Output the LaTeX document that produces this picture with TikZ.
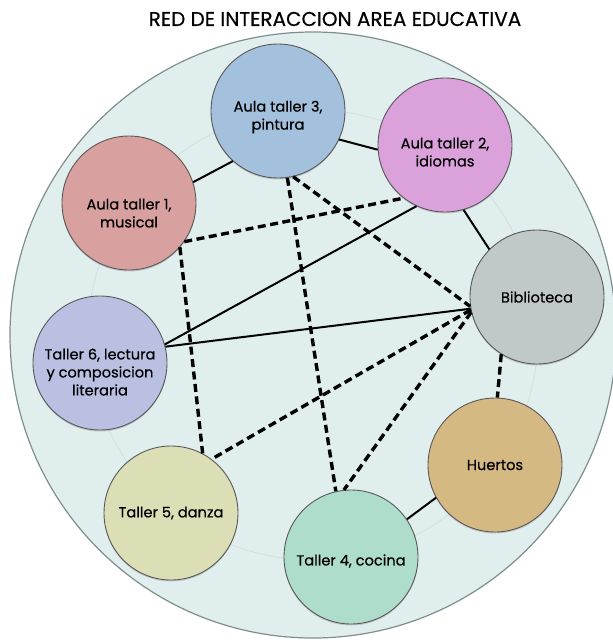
\documentclass[tikz,border=0pt]{standalone}
\usepackage{fontspec}
\setmainfont{Poppins}
\newfontfamily\nodefont{Poppins}[FakeBold=0.5]
\usetikzlibrary{shadows}
\definecolor{bgfill}{HTML}{E1EEEE}
\definecolor{bgedge}{HTML}{7E8E8E}
\definecolor{ringc}{HTML}{D3DFDF}
\definecolor{cA}{HTML}{D9A0A0}
\definecolor{cB}{HTML}{A3C0DC}
\definecolor{cC}{HTML}{DBA1DB}
\definecolor{cD}{HTML}{C1C8C8}
\definecolor{cE}{HTML}{D4B982}
\definecolor{cF}{HTML}{AEDECB}
\definecolor{cG}{HTML}{DCDEB5}
\definecolor{cH}{HTML}{B9C0E2}
\newcommand\tdown[1]{\rule{0pt}{#1}}
\begin{document}
\begin{tikzpicture}[x=1pt,y=-1pt,
  nd/.style={circle, draw=black!65, line width=0.9pt, minimum size=134pt, inner sep=0pt,
    align=center, font=\nodefont\fontsize{14.6}{18}\selectfont, text=black,
    drop shadow={opacity=0.35, shadow xshift=0pt, shadow yshift=-1.5pt}},
  sl/.style={line width=2pt, black},
  dl/.style={line width=3.4pt, black, dash pattern=on 8pt off 4.5pt},
]
\useasboundingbox (0,0) rectangle (613,640);
\begin{scope}
  \clip (0,0) rectangle (613,640);
  \fill[bgfill, draw=bgedge, line width=1.2pt] (313,335) circle (303pt);
\end{scope}
\draw[ringc, line width=0.8pt] (313,335) circle (225pt);
\node[font=\nodefont\fontsize{20}{22}\selectfont] (title) at (335,19) {RED DE INTERACCION AREA EDUCATIVA};

\node[nd, fill=cB] (a3) at (278,111) {\tdown{23pt}Aula taller 3,\\pintura};
\node[nd, fill=cC] (a2) at (445,145) {\tdown{25pt}Aula taller 2,\\idiomas};
\node[nd, fill=cA] (a1) at (129,203) {\tdown{31pt}Aula taller 1,\\musical};
\node[nd, fill=cD] (bib) at (537,297) {Biblioteca};
\node[nd, fill=cH] (t6) at (100,363) {\tdown{29pt}Taller 6, lectura\\y composicion\\literaria};
\node[nd, fill=cE] (hu) at (495,465) {Huertos};
\node[nd, fill=cG] (t5) at (171,513) {Taller 5, danza};
\node[nd, fill=cF] (t4) at (351,557) {\tdown{19pt}Taller 4, cocina};

\draw[sl] (a1.18) -- (a3.228);
\draw[sl] (a3.-25) -- (a2.184);
\draw[sl] (a2.-74) -- (bib.135);
\draw[sl] (a2.245) -- (t6.16);
\draw[sl] (t6.14) -- (bib.190);
\draw[sl] (hu.209) -- (t4.34);

\draw[dl] (a1.-35) -- (a2.232);
\draw[dl] (a1.-41) -- (t5.62);
\draw[dl] (a3.-82) -- (t4.103);
\draw[dl] (a3.-77) -- (bib.188);
\draw[dl] (bib.191) -- (t5.53);
\draw[dl] (bib.193) -- (t4.96);
\draw[dl] (bib.238) -- (hu.88);
\end{tikzpicture}
\end{document}
